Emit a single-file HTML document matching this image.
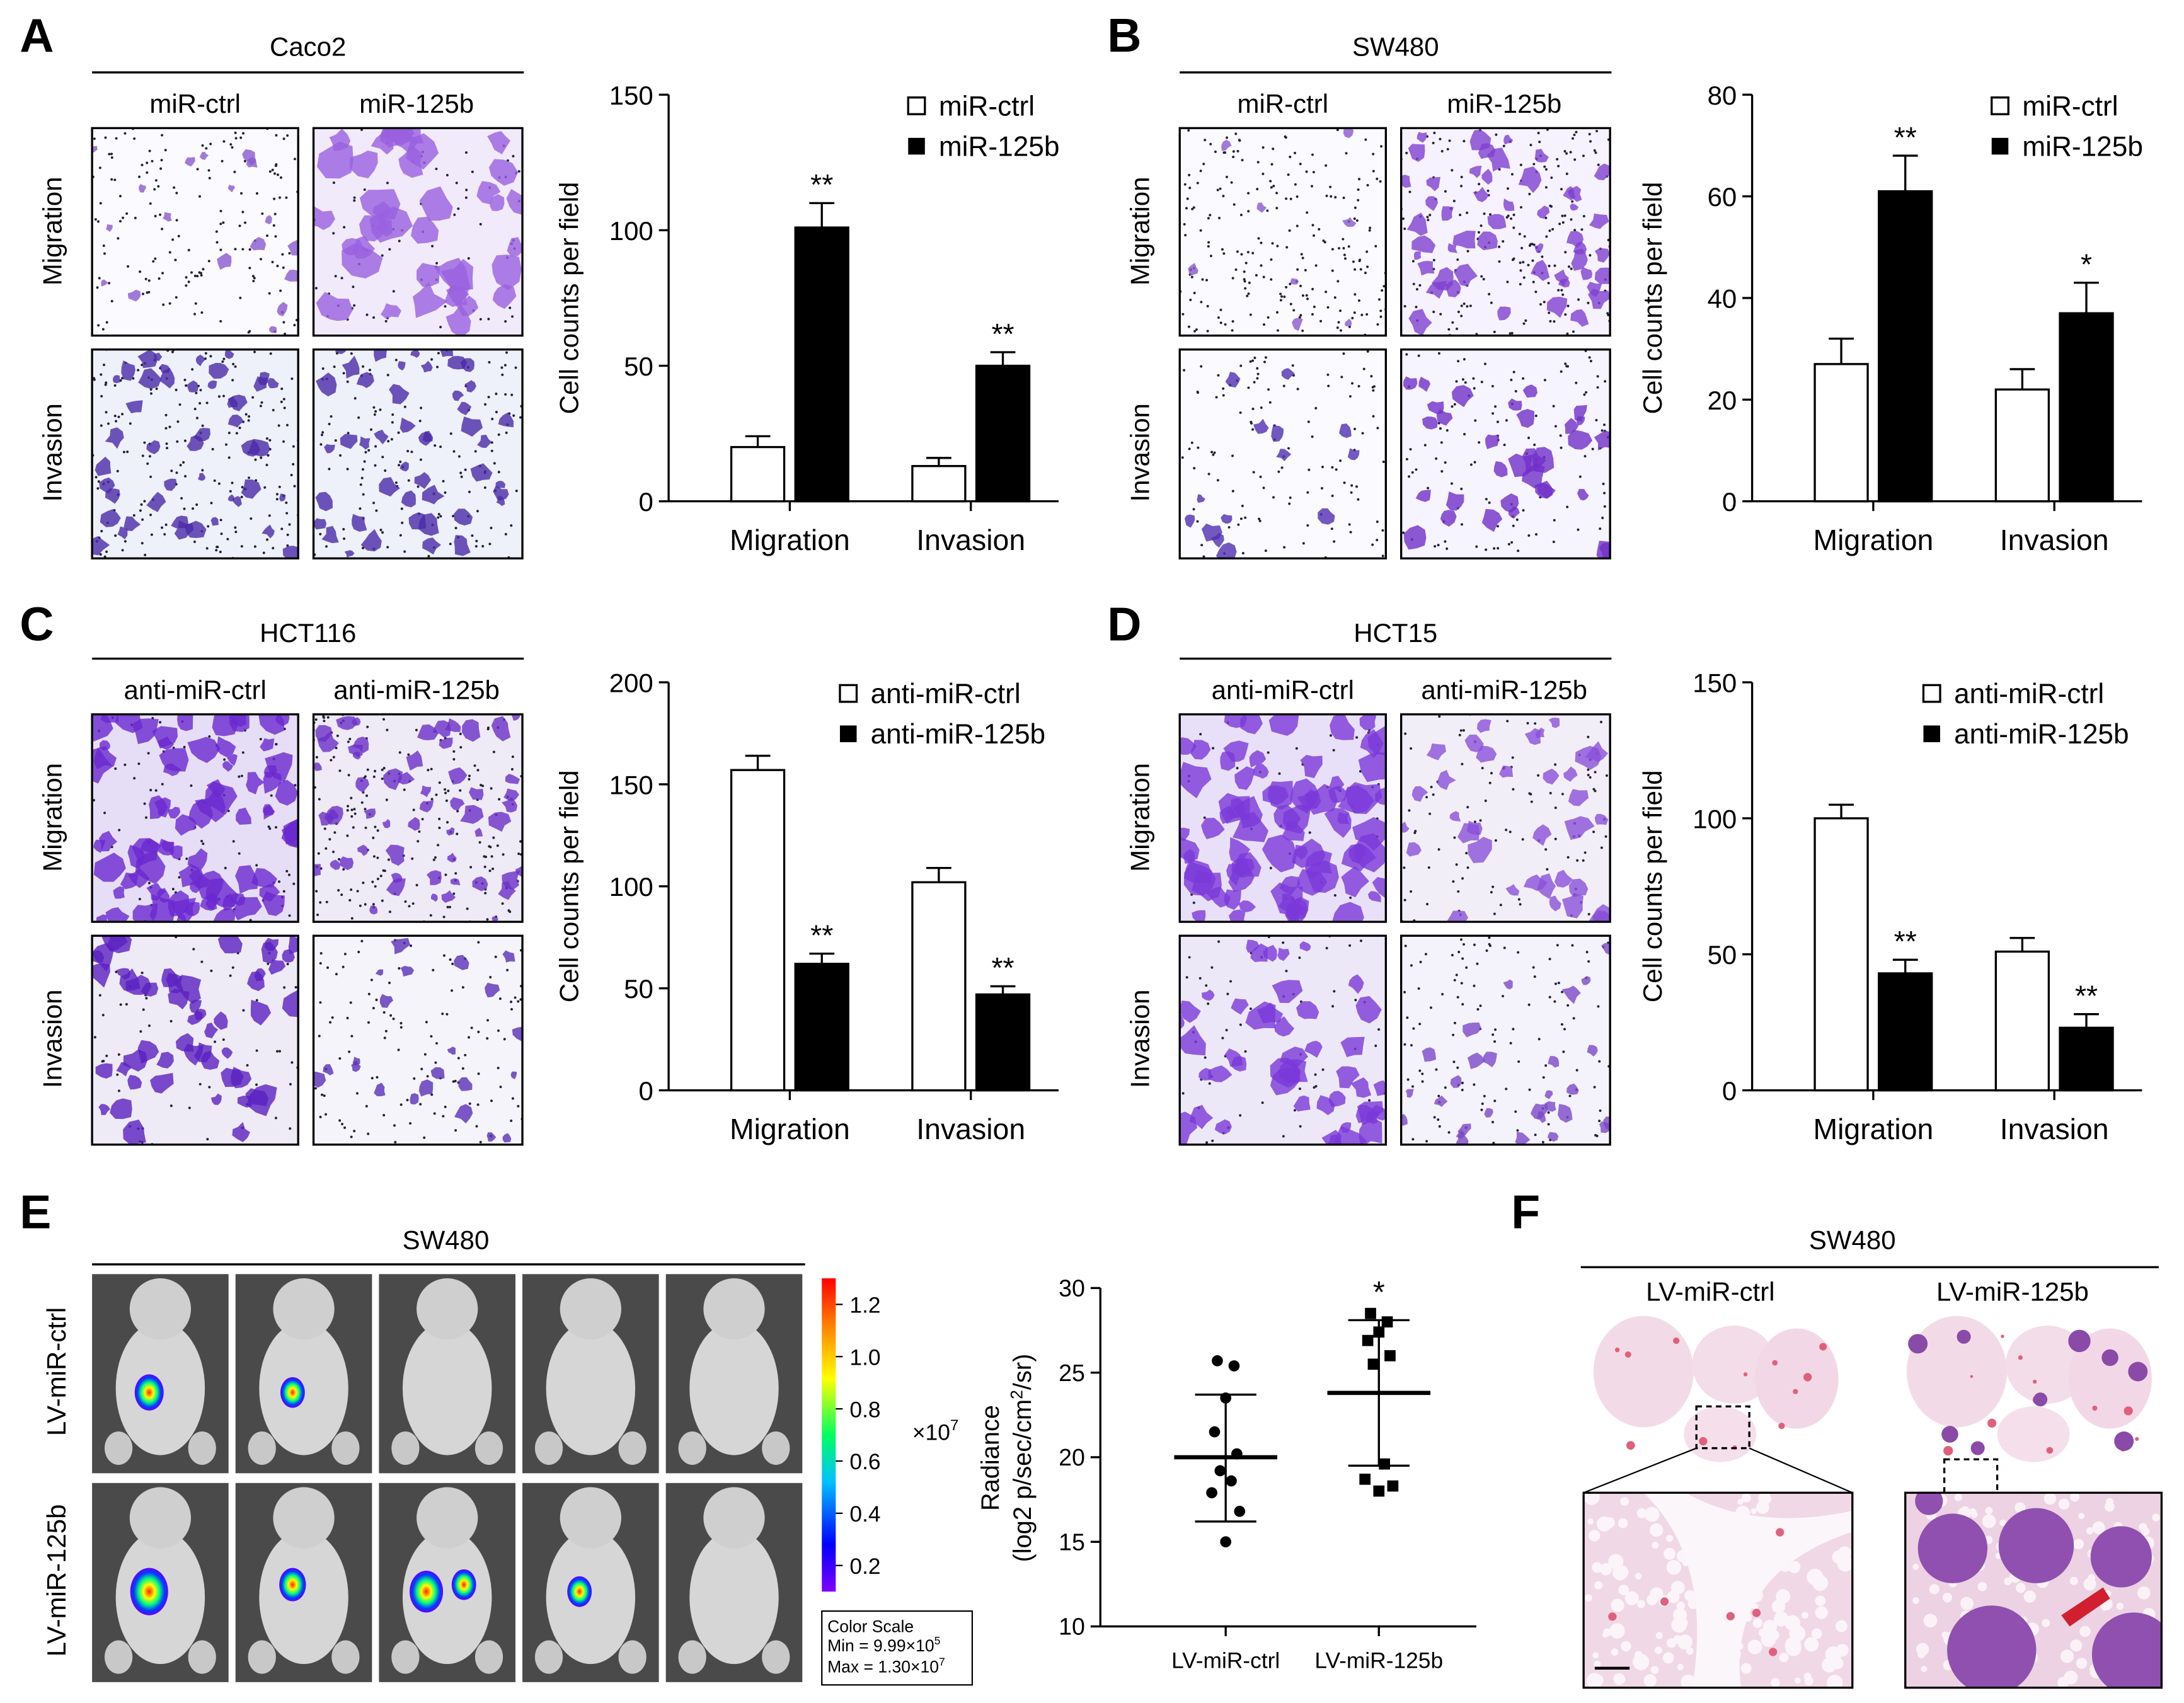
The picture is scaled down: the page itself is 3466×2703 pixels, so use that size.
<!DOCTYPE html>
<html><head><meta charset="utf-8"><style>
html,body{margin:0;padding:0;background:#fff}
svg{display:block}
text{font-family:"Liberation Sans",Arial,sans-serif;fill:#000}
</style></head><body>
<svg id="fig" width="3466" height="2703" viewBox="0 0 1568 1223" xmlns="http://www.w3.org/2000/svg">
<defs>
<linearGradient id="cbar" x1="0" y1="1" x2="0" y2="0">
<stop offset="0" stop-color="#8000ff"/><stop offset="0.15" stop-color="#0000ff"/><stop offset="0.35" stop-color="#00c0ff"/><stop offset="0.5" stop-color="#00ff60"/><stop offset="0.68" stop-color="#ffff00"/><stop offset="0.85" stop-color="#ff8000"/><stop offset="1" stop-color="#ff0000"/>
</linearGradient>
<radialGradient id="lum"><stop offset="0" stop-color="#ff2000"/><stop offset="0.3" stop-color="#ffff00"/><stop offset="0.55" stop-color="#00ff80"/><stop offset="0.8" stop-color="#0040ff"/><stop offset="1" stop-color="#6000ff"/></radialGradient>
<clipPath id="clipz1"><rect x="1137" y="1072" width="193" height="140"/></clipPath>
<clipPath id="clipz2"><rect x="1368" y="1072" width="184" height="140"/></clipPath>
</defs>
<g id="root"></g>
</svg>
<script>
// ---------- chart data ----------
const groups = ["Migration","Invasion"];
const aCtrl=[20,13], aCtrlErr=[4,3], aTreat=[101,50], aTreatErr=[9,5], aStars=["**","**"];
const bCtrl=[27,22], bCtrlErr=[5,4], bTreat=[61,37], bTreatErr=[7,6], bStars=["**","*"];
const cCtrl=[157,102], cCtrlErr=[7,7], cTreat=[62,47], cTreatErr=[5,4], cStars=["**","**"];
const dCtrl=[100,51], dCtrlErr=[5,5], dTreat=[43,23], dTreatErr=[5,5], dStars=["**","**"];
const abTicks=[0,50,100,150], bTicks=[0,20,40,60,80], cTicks=[0,50,100,150,200], dTicks=[0,50,100,150];
const scatterCats=["LV-miR-ctrl","LV-miR-125b"];
const scatterCtrl=[25.7,25.4,23.5,21.5,20.2,19.2,18.6,17.9,16.8,15.0];
const scatterTreat=[28.5,28.0,27.4,26.9,26.0,25.5,19.6,18.7,18.3,18.0];
const scatterMean=[20.0,23.8], scatterSdHi=[23.7,28.1], scatterSdLo=[16.2,19.5];
const scatterTicks=[10,15,20,25,30];
const cbarTicks=[0.2,0.4,0.6,0.8,1.0,1.2];

const NS="http://www.w3.org/2000/svg";
const root=document.getElementById('root');
function el(tag,attrs,parent,txt){const e=document.createElementNS(NS,tag);for(const k in attrs)e.setAttribute(k,attrs[k]);if(txt!==undefined)e.textContent=txt;(parent||root).appendChild(e);return e;}
function grp(name,parent){const g=el('g',{},parent);return g;}
function txt(name,x,y,s,size,opt,parent){const t=el('text',Object.assign({x:x,y:y,'font-size':size,'text-anchor':'middle'},opt||{}),parent,s);return t;}
let seed=12345;function rnd(){seed=(seed*16807)%2147483647;return seed/2147483647;}

let clipId=0;
function micro(name,x,y,w,h,bg,col,n,rmin,rmax,specks){
 const g=grp(name);
 const cid='mc'+(clipId++);
 const cp=el('clipPath',{id:cid},g);el('rect',{x:x,y:y,width:w,height:h},cp);
 const inner=el('g',{'clip-path':`url(#${cid})`},g);
 el('rect',{x:x,y:y,width:w,height:h,fill:bg},inner);
 for(let i=0;i<specks;i++){el('circle',{cx:x+rnd()*w,cy:y+rnd()*h,r:0.9,fill:'#223'},inner);}
 for(let i=0;i<n;i++){const cx=x+rnd()*w,cy=y+rnd()*h,r=rmin+rnd()*(rmax-rmin);
  let pts=[];for(let k=0;k<9;k++){const a=k/9*Math.PI*2,rr=r*(0.6+rnd()*0.6);pts.push((cx+Math.cos(a)*rr).toFixed(1)+','+(cy+Math.sin(a)*rr).toFixed(1));}
  el('polygon',{points:pts.join(' '),fill:col,opacity:0.8,'stroke-linejoin':'round'},inner);}
 el('rect',{x:x,y:y,width:w,height:h,fill:'none',stroke:'#000','stroke-width':1.5},g);
}
function cellPanel(pref,ox,oy,title,labL,labR,imgs){
 const g=grp(pref+'-micrographs');
 txt(pref+'-cell-line-title',ox+155,oy+37,title,19,{},g);
 el('line',{x1:ox,y1:oy+49,x2:ox+310,y2:oy+49,stroke:'#000','stroke-width':1.5},g);
 txt(pref+'-col-label-ctrl',ox+74,oy+78,labL,19,{},g);
 txt(pref+'-col-label-treat',ox+233,oy+78,labR,19,{},g);
 txt(pref+'-row-label-migration',0,0,'Migration',19,{transform:`translate(${ox-22},${oy+163}) rotate(-90)`},g);
 txt(pref+'-row-label-invasion',0,0,'Invasion',19,{transform:`translate(${ox-22},${oy+322}) rotate(-90)`},g);
 const pos=[[ox,oy+89,148,149],[ox+159,oy+89,150,149],[ox,oy+248,148,150],[ox+159,oy+248,150,150]];
 const nm=['migration-ctrl','migration-treat','invasion-ctrl','invasion-treat'];
 for(let i=0;i<4;i++){const p=pos[i],m=imgs[i];micro(pref+'-'+nm[i],p[0],p[1],p[2],p[3],m[0],m[1],m[2],m[3],m[4],m[5]);}
}
function barChart(pref,ax,yTop,y0,max,ticks,ctrl,ctrlE,treat,treatE,stars,legL,legR,legOff){
 const g=grp(pref+'-bar-chart');
 const ys=v=>y0-(v/max)*(y0-yTop);
 const xg=i=>ax+87+i*130;
 el('line',{x1:ax,y1:yTop,x2:ax,y2:y0,stroke:'#000','stroke-width':1.5},g);
 el('line',{x1:ax,y1:y0,x2:ax+280,y2:y0,stroke:'#000','stroke-width':1.5},g);
 ticks.forEach(t=>{el('line',{x1:ax-7,y1:ys(t),x2:ax,y2:ys(t),stroke:'#000','stroke-width':1.5},g);
  txt(pref+'-y-tick',ax-11,ys(t)+7,String(t),19,{'text-anchor':'end'},g);});
 txt(pref+'-y-axis-title',0,0,'Cell counts per field',19,{transform:`translate(${ax-65},${(yTop+y0)/2}) rotate(-90)`},g);
 groups.forEach((c,i)=>{
  el('line',{x1:xg(i),y1:y0,x2:xg(i),y2:y0+7,stroke:'#000','stroke-width':1.5},g);
  txt(pref+'-x-label',xg(i),y0+35,c,21,{},g);
  [[ctrl,ctrlE,-23,'#fff'],[treat,treatE,23,'#000']].forEach(([v,e,off,f])=>{
   const cx=xg(i)+off, top=ys(v[i]), et=ys(v[i]+e[i]);
   el('line',{x1:cx,y1:top,x2:cx,y2:et,stroke:'#000','stroke-width':1.5},g);
   el('line',{x1:cx-9,y1:et,x2:cx+9,y2:et,stroke:'#000','stroke-width':1.5},g);
   const r=el('rect',{x:cx-19,y:top,width:38,height:y0-top,fill:f,stroke:'#000','stroke-width':1.5},g);
   
   
  });
  txt(pref+'-significance',xg(i)+23,ys(treat[i]+treatE[i])-6,stars[i],21,{},g);
 });
 const lg=grp(pref+'-legend',g);
 el('rect',{x:ax+legOff,y:yTop+2,width:12,height:12,fill:'#fff',stroke:'#000','stroke-width':1.5},lg);
 txt(pref+'-legend-ctrl',ax+legOff+22,yTop+15,legL,20,{'text-anchor':'start'},lg);
 el('rect',{x:ax+legOff,y:yTop+31,width:12,height:12,fill:'#000'},lg);
 txt(pref+'-legend-treat',ax+legOff+22,yTop+44,legR,20,{'text-anchor':'start'},lg);
}
[['A',14,37],['B',795,37],['C',14,460],['D',795,460],['E',14,882],['F',1085,882]].forEach(([l,x,y])=>txt('panel-label-'+l.toLowerCase(),x,y,l,34,{'font-weight':'bold','text-anchor':'start'}));

cellPanel('a',66,3,'Caco2','miR-ctrl','miR-125b',[
 ['#fbfaff','#8a5ad0',18,2,6,160],['#f0eafa','#9a60e0',40,6,15,80],['#eef0fa','#4a2aa8',45,3,8,200],['#eef0fa','#4a2aa8',45,3,8,150]]);
barChart('a',480,68,360,150,abTicks,aCtrl,aCtrlErr,aTreat,aTreatErr,aStars,'miR-ctrl','miR-125b',172);
cellPanel('b',847,3,'SW480','miR-ctrl','miR-125b',[
 ['#fbfbff','#8a5ad0',8,2,5,220],['#f6f2ff','#8040d0',50,3,9,200],['#fbfbff','#5030b0',14,3,8,120],['#f6f4ff','#7030c8',32,4,10,120]]);
barChart('b',1258,68,360,80,bTicks,bCtrl,bCtrlErr,bTreat,bTreatErr,bStars,'miR-ctrl','miR-125b',172);
cellPanel('c',66,424,'HCT116','anti-miR-ctrl','anti-miR-125b',[
 ['#e6def6','#6a28d0',80,4,12,80],['#eeeaf6','#6a30c8',55,3,8,200],['#eeeaf6','#5a20c0',50,4,11,60],['#f4f4fa','#5a30b8',22,3,7,120]]);
barChart('c',480,490,783,200,cTicks,cCtrl,cCtrlErr,cTreat,cTreatErr,cStars,'anti-miR-ctrl','anti-miR-125b',123);
cellPanel('d',847,424,'HCT15','anti-miR-ctrl','anti-miR-125b',[
 ['#e8e0f8','#7a38d8',75,5,13,40],['#f2eef8','#8a50d8',35,4,10,100],['#ede8f8','#7a38d8',45,4,12,60],['#f4f2fa','#7a48c8',28,3,7,120]]);
barChart('d',1258,490,783,150,dTicks,dCtrl,dCtrlErr,dTreat,dTreatErr,dStars,'anti-miR-ctrl','anti-miR-125b',123);

// ---------- E: mice ----------
const eg=grp('e-bioluminescence');
txt('e-title',320,897,'SW480',19,{},eg);
el('line',{x1:66,y1:908,x2:578,y2:908,stroke:'#000','stroke-width':1.5},eg);
txt('e-row-label-ctrl',0,0,'LV-miR-ctrl',19,{transform:'translate(47,985) rotate(-90)'},eg);
txt('e-row-label-treat',0,0,'LV-miR-125b',19,{transform:'translate(47,1135) rotate(-90)'},eg);
const signals=[[[0,0,13]],[[0,0,11]],[],[],[],[[0,0,17]],[[0,-5,12]],[[-7,0,15],[20,-5,11]],[[0,0,11]],[]];
for(let r=0;r<2;r++)for(let c=0;c<5;c++){
 const x=66+c*103,y=915+r*150,g=grp(`mouse-image-r${r+1}-c${c+1}`,eg);
 el('rect',{x:x,y:y,width:98,height:143,fill:'#4a4a4a'},g);
 const cx=x+49;
 el('ellipse',{cx:cx,cy:y+82,rx:32,ry:48,fill:'#d6d6d6'},g);
 el('ellipse',{cx:cx,cy:y+25,rx:22,ry:22,fill:'#cfcfcf'},g);
 el('ellipse',{cx:cx-30,cy:y+125,rx:10,ry:12,fill:'#c8c8c8'},g);
 el('ellipse',{cx:cx+30,cy:y+125,rx:10,ry:12,fill:'#c8c8c8'},g);
 signals[r*5+c].forEach(([dx,dy,rr])=>el('ellipse',{cx:cx-8+dx,cy:y+(r?78:85)+dy,rx:rr*0.8,ry:rr,fill:'url(#lum)'},g));
}
const cb=grp('color-scale-bar');
el('rect',{x:590,y:918,width:10,height:225,fill:'url(#cbar)'},cb);
cbarTicks.forEach(t=>{const y=1143-(t-0.0999)/(1.3-0.0999)*225;el('line',{x1:600,y1:y,x2:605,y2:y,stroke:'#000'},cb);txt('color-scale-tick',610,y+6,t.toFixed(1),16,{'text-anchor':'start'},cb);});
const xt=txt('color-scale-unit',655,1034,'×10',16,{'text-anchor':'start'},cb);el('tspan',{dy:-7,'font-size':11},xt,'7');
el('rect',{x:590,y:1157,width:108,height:53,fill:'#fff',stroke:'#000'},cb);
txt('color-scale-caption',594,1172,'Color Scale',12,{'text-anchor':'start'},cb);
const mn=txt('color-scale-min',594,1186,'Min = 9.99×10',12,{'text-anchor':'start'},cb);el('tspan',{dy:-5,'font-size':8},mn,'5');
const mx=txt('color-scale-max',594,1201,'Max = 1.30×10',12,{'text-anchor':'start'},cb);el('tspan',{dy:-5,'font-size':8},mx,'7');

// scatter
const sg=grp('e-scatter-chart');
const sAx=790,sTop=925,sY0=1168,sMin=10,sMax=30;
const sy=v=>sY0-(v-sMin)/(sMax-sMin)*(sY0-sTop);
const sx=i=>880+i*110;
el('line',{x1:sAx,y1:sTop,x2:sAx,y2:sY0,stroke:'#000','stroke-width':1.5},sg);
el('line',{x1:sAx,y1:sY0,x2:1060,y2:sY0,stroke:'#000','stroke-width':1.5},sg);
scatterTicks.forEach(t=>{el('line',{x1:sAx-7,y1:sy(t),x2:sAx,y2:sy(t),stroke:'#000','stroke-width':1.5},sg);txt('e-y-tick',sAx-11,sy(t)+6,String(t),17,{'text-anchor':'end'},sg);});
txt('e-y-axis-title-1',0,0,'Radiance',18,{transform:`translate(${sAx-73},1047) rotate(-90)`},sg);
const yt2=txt('e-y-axis-title-2',0,0,'(log2 p/sec/cm',18,{transform:`translate(${sAx-50},1047) rotate(-90)`},sg);
el('tspan',{dy:-6,'font-size':12},yt2,'2');el('tspan',{dy:6},yt2,'/sr)');
scatterCats.forEach((c,i)=>{el('line',{x1:sx(i),y1:sY0,x2:sx(i),y2:sY0+7,stroke:'#000','stroke-width':1.5},sg);txt('e-x-label',sx(i),sY0+30,c,16,{},sg);
 el('line',{x1:sx(i)-37,y1:sy(scatterMean[i]),x2:sx(i)+37,y2:sy(scatterMean[i]),stroke:'#000','stroke-width':3},sg);
 el('line',{x1:sx(i),y1:sy(scatterSdHi[i]),x2:sx(i),y2:sy(scatterSdLo[i]),stroke:'#000','stroke-width':1.5},sg);
 [scatterSdHi[i],scatterSdLo[i]].forEach(v=>el('line',{x1:sx(i)-22,y1:sy(v),x2:sx(i)+22,y2:sy(v),stroke:'#000','stroke-width':1.5},sg));
});
const jit=[-6,6,0,-8,8,-4,4,-10,10,0];
scatterCtrl.forEach((v,k)=>{const p=el('circle',{cx:sx(0)+jit[k],cy:sy(v),r:4,fill:'#000'},sg);});
scatterTreat.forEach((v,k)=>{const p=el('rect',{x:sx(1)+jit[k]-4,y:sy(v)-4,width:8,height:8,fill:'#000'},sg);});
txt('e-significance',sx(1),sy(Math.max(...scatterTreat))-8,'*',22,{},sg);

// ---------- F: histology ----------
const fg=grp('f-histology');
txt('f-title',1330,897,'SW480',19,{},fg);
el('line',{x1:1135,y1:910,x2:1550,y2:910,stroke:'#000','stroke-width':1.5},fg);
txt('f-col-label-ctrl',1228,934,'LV-miR-ctrl',19,{},fg);
txt('f-col-label-treat',1445,934,'LV-miR-125b',19,{},fg);
function lung(x,y,nodules,g){
 el('ellipse',{cx:x+40,cy:y+40,rx:36,ry:40,fill:'#f2dbe7'},g);
 el('ellipse',{cx:x+105,cy:y+35,rx:30,ry:28,fill:'#f3dde9'},g);
 el('ellipse',{cx:x+150,cy:y+45,rx:30,ry:36,fill:'#f2d8e6'},g);
 el('ellipse',{cx:x+95,cy:y+85,rx:26,ry:20,fill:'#f4dfea'},g);
 for(let i=0;i<12;i++)el('circle',{cx:x+20+rnd()*150,cy:y+10+rnd()*90,r:1+rnd()*2.5,fill:'#e0607a'},g);
 nodules.forEach(([dx,dy,r])=>el('circle',{cx:x+dx,cy:y+dy,r:r,fill:'#8a4aa8'},g));
}
const ft1=grp('f-lung-ctrl',fg);lung(1140,945,[],ft1);
const ft2=grp('f-lung-treat',fg);lung(1365,945,[[12,20,7],[45,15,5],[128,18,8],[150,30,6],[170,40,7],[35,85,6],[55,95,5],[160,90,7],[100,60,5]],ft2);
el('rect',{x:1218,y:1010,width:38,height:30,fill:'none',stroke:'#000','stroke-dasharray':'4,3','stroke-width':1.5},fg);
el('rect',{x:1396,y:1048,width:38,height:30,fill:'none',stroke:'#000','stroke-dasharray':'4,3','stroke-width':1.5},fg);
el('line',{x1:1218,y1:1040,x2:1137,y2:1072,stroke:'#000'},fg);el('line',{x1:1256,y1:1040,x2:1330,y2:1072,stroke:'#000'},fg);
el('line',{x1:1396,y1:1078,x2:1368,y2:1072,stroke:'#000'},fg);el('line',{x1:1434,y1:1078,x2:1552,y2:1072,stroke:'#000'},fg);
const z1=grp('f-zoom-ctrl',fg);
const z1i=el('g',{'clip-path':'url(#clipz1)'},z1);
el('rect',{x:1137,y:1072,width:193,height:140,fill:'#f0d8e6'},z1i);
for(let i=0;i<160;i++)el('circle',{cx:1140+rnd()*188,cy:1075+rnd()*134,r:2+rnd()*4,fill:'#fbf4f8'},z1i);
el('path',{d:'M1180 1072 Q1230 1120 1215 1212 L1250 1212 Q1240 1130 1330 1100 L1330 1085 Q1260 1100 1210 1072Z',fill:'#fbf6f9'},z1i);
for(let i=0;i<6;i++)el('circle',{cx:1145+rnd()*180,cy:1080+rnd()*125,r:3,fill:'#e06080'},z1i);
el('line',{x1:1145,y1:1198,x2:1170,y2:1198,stroke:'#000','stroke-width':2},z1);
el('rect',{x:1137,y:1072,width:193,height:140,fill:'none',stroke:'#000','stroke-width':1.5},z1);
const z2=grp('f-zoom-treat',fg);
const z2i=el('g',{'clip-path':'url(#clipz2)'},z2);
el('rect',{x:1368,y:1072,width:184,height:140,fill:'#ecd2e2'},z2i);
for(let i=0;i<120;i++)el('circle',{cx:1370+rnd()*180,cy:1075+rnd()*134,r:2+rnd()*3,fill:'#faf2f6'},z2i);
[[1402,1112,25],[1462,1110,27],[1523,1118,22],[1430,1185,32],[1532,1188,30],[1385,1078,10]].forEach(([x,y,r])=>el('circle',{cx:x,cy:y,r:r,fill:'#9050b0'},z2i));
el('path',{d:'M1480 1160 L1510 1140 L1515 1148 L1486 1168Z',fill:'#d02030'},z2i);
el('rect',{x:1368,y:1072,width:184,height:140,fill:'none',stroke:'#000','stroke-width':1.5},z2);
</script>
</body></html>
